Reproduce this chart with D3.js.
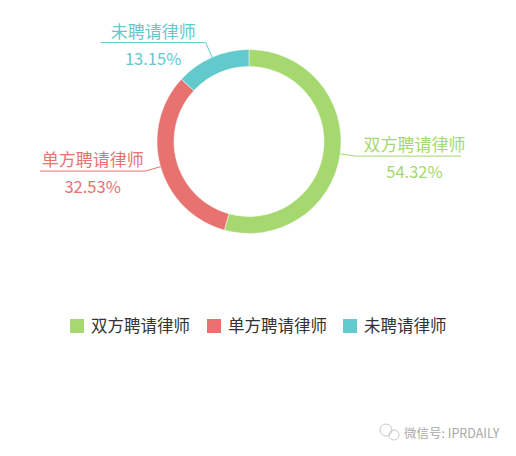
<!DOCTYPE html>
<html>
<head>
<meta charset="utf-8">
<script src="https://cdn.jsdelivr.net/npm/d3@7"></script>
<style>
  body { margin: 0; background: #fff; }
  svg { display: block; font-family: "Noto Sans CJK SC", "Noto Sans", sans-serif; }
</style>
</head>
<body>
<div id="chart"></div>
<script>
// chart data
const categories = ["双方聘请律师", "单方聘请律师", "未聘请律师"];
const shares = [54.32, 32.53, 13.15];
const colors = ["#a5d86e", "#e8726f", "#62c9cc"];

const width = 516, height = 456;
const cx = 249, cy = 141.5;
const outerR = 92, innerR = 75;

const svg = d3.select("#chart")
    .append("svg")
    .attr("width", width)
    .attr("height", height);

const colorScale = d3.scaleOrdinal()
    .domain(categories)
    .range(colors);

const pie = d3.pie()
    .value(d => d.value)
    .sort(null);

const data = categories.map((c, i) => ({label: c, value: shares[i]}));
const arcs = pie(data);

const arc = d3.arc().innerRadius(innerR).outerRadius(outerR);

const g = svg.append("g")
    .attr("transform", "translate(" + cx + "," + cy + ")");

g.selectAll("path")
    .data(arcs)
    .enter()
    .append("path")
    .attr("d", arc)
    .attr("fill", d => colorScale(d.data.label))
    .attr("stroke", "white")
    .style("stroke-width", "0.5px");

// label lines: from the ring edge, a short bend, then a horizontal run with text above / below
const lineArc = d3.arc().innerRadius(outerR).outerRadius(outerR);
const bendArc = d3.arc().innerRadius(outerR + 16).outerRadius(outerR + 16);
const runLength = 105;

arcs.forEach(d => {
    const mid = (d.startAngle + d.endAngle) / 2;
    const p0 = lineArc.centroid(d);
    const p1 = bendArc.centroid(d);
    const right = mid < Math.PI;
    const p2 = [p1[0] + (right ? runLength : -runLength), p1[1]];
    const col = colorScale(d.data.label);

    g.append("polyline")
        .attr("points", [p0, p1, p2].map(p => p.join(",")).join(" "))
        .attr("fill", "none")
        .attr("stroke", col)
        .attr("stroke-width", 1);

    const tx = (p1[0] + p2[0]) / 2 + (right ? 6 : 0);
    g.append("text")
        .attr("x", tx)
        .attr("y", p1[1] - 5)
        .attr("text-anchor", "middle")
        .attr("fill", col)
        .style("font-size", "17px")
        .text(d.data.label);

    g.append("text")
        .attr("x", tx)
        .attr("y", p1[1] + 22)
        .attr("text-anchor", "middle")
        .attr("fill", col)
        .style("font-size", "16.5px")
        .text(d3.format(".2f")(d.data.value) + "%");
});

// legend
const legendX = [70, 207, 343];
const legend = svg.append("g");
categories.forEach((c, i) => {
    const item = legend.append("g")
        .attr("transform", "translate(" + legendX[i] + ",319)");
    item.append("rect")
        .attr("width", 14)
        .attr("height", 14)
        .attr("fill", colorScale(c));
    item.append("text")
        .attr("x", 21)
        .attr("y", 13)
        .attr("fill", "#333")
        .style("font-size", "16.5px")
        .text(c);
});

// watermark
const wm = svg.append("g").attr("transform", "translate(380,434)");
wm.append("circle").attr("cx", 6).attr("cy", -4).attr("r", 6)
    .attr("fill", "none").attr("stroke", "#c8c8c8").attr("stroke-width", 1);
wm.append("circle").attr("cx", 14).attr("cy", 1).attr("r", 5)
    .attr("fill", "none").attr("stroke", "#c8c8c8").attr("stroke-width", 1);
wm.append("text")
    .attr("x", 24)
    .attr("y", 4)
    .attr("fill", "#aaa")
    .style("font-size", "12.5px")
    .text("微信号: IPRDAILY");
</script>
</body>
</html>
